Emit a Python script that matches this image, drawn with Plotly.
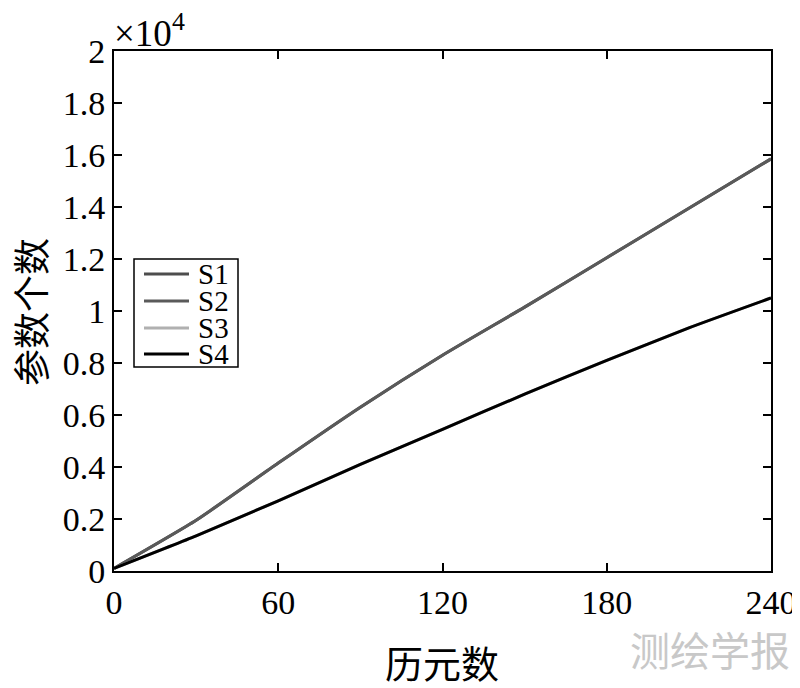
import plotly.graph_objects as go

# epochs and parameter counts (in units of 1e4)
epochs = [0, 30, 60, 90, 120, 150, 180, 210, 240]
s1 = [0.01, 0.195, 0.415, 0.63, 0.83, 1.015, 1.205, 1.395, 1.585]
s2 = [0.01, 0.195, 0.415, 0.63, 0.83, 1.015, 1.205, 1.395, 1.585]
s3 = [0.01, 0.135, 0.27, 0.41, 0.545, 0.68, 0.81, 0.935, 1.05]
s4 = [0.01, 0.135, 0.27, 0.41, 0.545, 0.68, 0.81, 0.935, 1.05]

series_names = ["S1", "S2", "S3", "S4"]
series_colors = ["#4d4d4d", "#5a5a5a", "#b0b0b0", "#000000"]

x_ticks = [0, 60, 120, 180, 240]
y_ticks = [0, 0.2, 0.4, 0.6, 0.8, 1, 1.2, 1.4, 1.6, 1.8, 2]
y_labels = ["0", "0.2", "0.4", "0.6", "0.8", "1", "1.2", "1.4", "1.6", "1.8", "2"]

serif = "Liberation Serif"
cjk = "Noto Sans CJK SC"

# plot area in page pixels, used to place titles and the hand-drawn legend
PX0, PX1, PY0, PY1 = 113, 770, 50, 570


def px(X):
    return (X - PX0) / (PX1 - PX0)


def py(Y):
    return (PY1 - Y) / (PY1 - PY0)


fig = go.Figure()
for name, ys, col in zip(series_names, [s1, s2, s3, s4], series_colors):
    fig.add_trace(go.Scatter(x=epochs, y=ys, mode="lines", name=name, showlegend=False,
                             line=dict(color=col, width=3, shape="spline", smoothing=0.5)))

axis_common = dict(showline=True, linecolor="black", linewidth=2, mirror="ticks",
                   ticks="inside", ticklen=8, tickwidth=2, tickcolor="black",
                   showgrid=False, zeroline=False, automargin=False,
                   tickfont=dict(family=serif, size=34, color="black"))

fig.update_xaxes(range=[0, 240], tickvals=x_ticks, **axis_common)
fig.update_yaxes(range=[0, 2], tickvals=y_ticks, ticktext=y_labels, **axis_common)

# axis titles
fig.add_annotation(x=px(441), y=py(660), xref="paper", yref="paper", showarrow=False,
                   xanchor="center", yanchor="middle",
                   text="历元数", font=dict(family=cjk, size=38, color="black"))
fig.add_annotation(x=px(29), y=py(311), xref="paper", yref="paper", showarrow=False,
                   xanchor="center", yanchor="middle", textangle=-90,
                   text="参数个数", font=dict(family=cjk, size=37, color="black"))

fig.add_annotation(x=0, y=1, xref="paper", yref="paper", xanchor="left", yanchor="bottom",
                   xshift=-2, yshift=-5, showarrow=False,
                   text="×10<sup>4</sup>", font=dict(family=serif, size=37, color="black"))
fig.add_annotation(x=px(627), y=py(648), xref="paper", yref="paper",
                   xanchor="left", yanchor="middle", showarrow=False,
                   text="测绘学报", font=dict(family=cjk, size=40, color="#c8c8c8"))

# legend box (MATLAB style, tight spacing)
fig.add_shape(type="rect", xref="paper", yref="paper",
              x0=px(133), x1=px(237), y0=py(366), y1=py(258),
              line=dict(color="black", width=1.5), fillcolor="white", layer="above")
for name, col, Y in zip(series_names, series_colors, [273, 300, 327, 353]):
    fig.add_shape(type="line", xref="paper", yref="paper",
                  x0=px(143), x1=px(188), y0=py(Y), y1=py(Y),
                  line=dict(color=col, width=3), layer="above")
    fig.add_annotation(x=px(195), y=py(Y), xref="paper", yref="paper",
                       xanchor="left", yanchor="middle", showarrow=False,
                       text=name, font=dict(family=serif, size=29, color="black"))

# page has an ~7px offset, so margins are shifted accordingly
fig.update_layout(
    width=800, height=688,
    margin=dict(l=106, r=37, t=43, b=125),
    plot_bgcolor="white", paper_bgcolor="white",
    showlegend=False,
)

fig.write_html("out.html")
